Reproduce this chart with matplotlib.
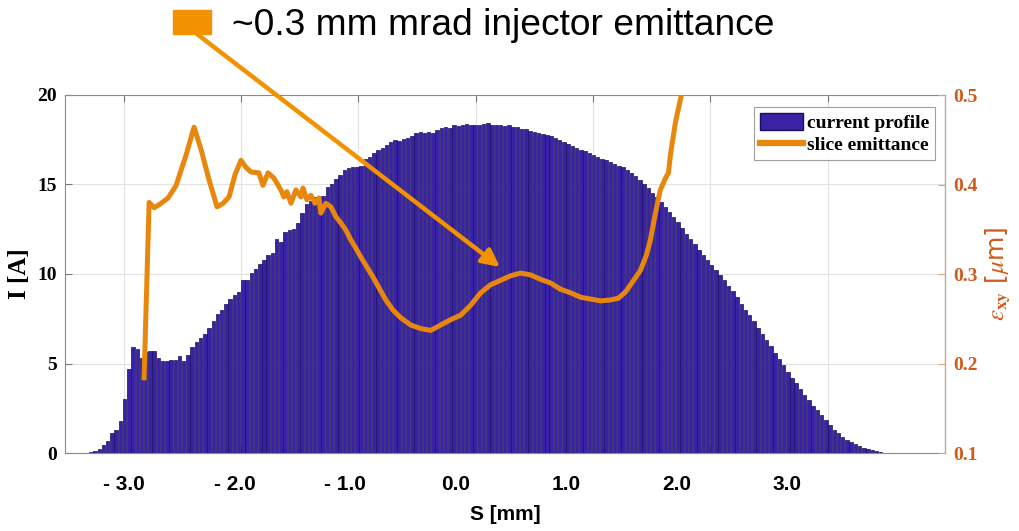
import matplotlib
matplotlib.use("Agg")
import matplotlib.pyplot as plt
import numpy as np
from matplotlib.patches import Rectangle, Patch
from matplotlib.lines import Line2D

plt.rcParams['mathtext.fontset'] = 'stix'

# current profile: bin centres start / width [mm], heights [A]
bin_start = -3.28
bin_width = 0.036
current = [
    0.05, 0.12, 0.25, 0.42, 0.68, 1.1, 1.3, 1.8, 3.0, 4.7,
    5.9, 5.8, 5.3, 5.65, 5.7, 5.7, 5.3, 5.15, 5.15, 5.2,
    5.2, 5.4, 5.15, 5.5, 5.9, 6.2, 6.45, 6.65, 7.0, 7.4,
    7.75, 8.0, 8.3, 8.6, 8.8, 9.0, 9.65, 9.65, 10.05, 10.3,
    10.55, 10.8, 11.05, 11.15, 11.95, 11.8, 12.35, 12.45, 12.5, 12.85,
    13.4, 13.9, 14.1, 14.3, 14.15, 14.35, 14.85, 15.05, 15.3, 15.55,
    15.8, 15.9, 16.0, 15.95, 16.05, 16.45, 16.55, 16.75, 16.9, 17.05,
    17.2, 17.4, 17.5, 17.45, 17.55, 17.6, 17.7, 17.9, 17.95, 17.9,
    17.95, 17.9, 18.05, 18.15, 18.2, 18.15, 18.3, 18.25, 18.35, 18.4,
    18.3, 18.35, 18.3, 18.4, 18.45, 18.35, 18.3, 18.3, 18.25, 18.3,
    18.2, 18.2, 18.1, 18.1, 18.0, 17.95, 17.9, 17.8, 17.75, 17.7,
    17.6, 17.5, 17.35, 17.25, 17.15, 17.05, 16.95, 16.85, 16.75, 16.65,
    16.55, 16.45, 16.35, 16.25, 16.15, 16.05, 15.95, 15.8, 15.65, 15.45,
    15.25, 15.0, 14.8, 14.55, 14.3, 14.05, 13.75, 13.45, 13.2, 12.9,
    12.55, 12.25, 11.95, 11.65, 11.35, 11.05, 10.8, 10.5, 10.2, 9.95,
    9.65, 9.35, 9.05, 8.7, 8.35, 8.0, 7.7, 7.35, 7.0, 6.65,
    6.3, 5.95, 5.6, 5.25, 4.9, 4.55, 4.2, 3.9, 3.55, 3.25,
    2.95, 2.65, 2.4, 2.1, 1.85, 1.55, 1.3, 1.1, 0.9, 0.75,
    0.6, 0.48, 0.38, 0.3, 0.22, 0.15, 0.1, 0.06,
]

# slice emittance [um] vs s [mm]
emit_s = [
    -2.826, -2.783, -2.740, -2.681, -2.621, -2.553, -2.468, -2.400, -2.340, -2.272,
    -2.204, -2.153, -2.102, -2.051, -2.000, -1.957, -1.915, -1.847, -1.813, -1.770,
    -1.719, -1.660, -1.634, -1.609, -1.574, -1.532, -1.489, -1.472, -1.438, -1.404,
    -1.370, -1.336, -1.319, -1.277, -1.234, -1.191, -1.149, -1.106, -1.064, -1.021,
    -0.979, -0.928, -0.877, -0.826, -0.766, -0.706, -0.638, -0.553, -0.468, -0.383,
    -0.298, -0.213, -0.128, -0.043, 0.043, 0.128, 0.213, 0.298, 0.383, 0.468,
    0.553, 0.638, 0.723, 0.809, 0.894, 0.979, 1.064, 1.149, 1.217, 1.277,
    1.336, 1.404, 1.455, 1.489, 1.532, 1.574, 1.617, 1.643, 1.660, 1.702,
    1.753, 1.787,
]
emit = [
    0.184, 0.380, 0.374, 0.379, 0.385, 0.399, 0.433, 0.464, 0.439, 0.405,
    0.375, 0.379, 0.386, 0.411, 0.427, 0.419, 0.414, 0.413, 0.399, 0.413,
    0.407, 0.394, 0.386, 0.392, 0.379, 0.394, 0.386, 0.396, 0.383, 0.388,
    0.379, 0.385, 0.368, 0.379, 0.375, 0.364, 0.357, 0.349, 0.338, 0.329,
    0.319, 0.308, 0.297, 0.285, 0.271, 0.260, 0.251, 0.243, 0.239, 0.237,
    0.243, 0.249, 0.254, 0.265, 0.279, 0.288, 0.293, 0.298, 0.301, 0.299,
    0.294, 0.290, 0.283, 0.279, 0.274, 0.272, 0.270, 0.271, 0.273, 0.280,
    0.291, 0.304, 0.321, 0.338, 0.368, 0.394, 0.407, 0.413, 0.433, 0.469,
    0.500, 0.539,
]

x_ticks = [-3, -2, -1, 0, 1, 2, 3]
x_ticklabels = ['- 3.0', '- 2.0', '- 1.0', '0.0', '1.0', '2.0', '3.0']
i_ticks = [0, 5, 10, 15, 20]
e_ticks = [0.1, 0.2, 0.3, 0.4, 0.5]

bar_col = '#3A22A6'
line_col = '#E8870E'
arrow_col = '#F39200'
right_col = '#CF5A1C'
sans = ['Liberation Sans', 'DejaVu Sans']
serif = ['Liberation Serif', 'DejaVu Serif']

fig = plt.figure(figsize=(10.2, 5.31), dpi=100)
ax = fig.add_axes([65/1020, 1-453/531, 880/1020, 358/531])

s = bin_start + bin_width*np.arange(len(current))
ax.bar(s, current, width=bin_width*0.82, color=bar_col, edgecolor='#1A0E5E', linewidth=0.5, zorder=2)

ax.set_xlim(-3.5, 4.0)
ax.set_ylim(0, 20)
ax.set_xticks(x_ticks)
ax.set_yticks(i_ticks)
ax.grid(True, color='#e2e2e2', linewidth=0.8, zorder=0)
ax.set_axisbelow(True)
ax.tick_params(axis='x', direction='in', top=True, labelbottom=False, length=5, color='#777777')
ax.tick_params(axis='y', direction='in', right=False, length=5, color='#777777', pad=6)
for lab in ax.get_yticklabels():
    lab.set_fontfamily(serif)
    lab.set_fontweight('bold')
    lab.set_fontsize(14)
for sp in ['left', 'top', 'bottom']:
    ax.spines[sp].set_color('#8a8a8a')
ax.set_ylabel('I [A]', fontfamily=serif, fontweight='bold', fontsize=18, labelpad=4)

# pasted tick labels, offset from the grid
def fwd(x):
    return (x + 0.170)/0.9421

def inv(x):
    return 0.9421*x - 0.170

sec = ax.secondary_xaxis('bottom', functions=(fwd, inv))
sec.set_xticks(x_ticks)
sec.set_xticklabels(x_ticklabels, fontfamily=sans, fontweight='bold', fontsize=15)
sec.tick_params(length=0, pad=16)
sec.spines['bottom'].set_visible(False)
sec.set_xlabel('S [mm]', fontfamily=sans, fontweight='bold', fontsize=15, labelpad=8)

ax2 = ax.twinx()
ax2.plot(emit_s, emit, color=line_col, linewidth=3.6, solid_joinstyle='round', zorder=3)
ax2.set_ylim(0.1, 0.5)
ax2.set_yticks(e_ticks)
ax2.tick_params(axis='y', direction='in', length=5, color='#E0A07A', labelcolor=right_col, pad=6)
for lab in ax2.get_yticklabels():
    lab.set_fontfamily(serif)
    lab.set_fontweight('bold')
    lab.set_fontsize(14)
ax2.spines['right'].set_color('#E0A07A')
for sp in ['left', 'top', 'bottom']:
    ax2.spines[sp].set_visible(False)
ax2.set_ylabel(r'$\epsilon_{\mathbf{xy}}$ [$\mu$m]', color=right_col, fontsize=18, labelpad=4)

handles = [Patch(facecolor=bar_col, edgecolor='#1A0E5E'),
           Line2D([0], [0], color=line_col, linewidth=4.5)]
leg = ax2.legend(handles, ['current profile', 'slice emittance'], loc='upper right',
                 bbox_to_anchor=((935-65)/880, (453-107)/358), borderaxespad=0,
                 fancybox=False, edgecolor='#888888',
                 handlelength=2.2, handleheight=1.0, handletextpad=0.2, borderpad=0.3,
                 labelspacing=0.15, prop={'family': serif, 'weight': 'bold', 'size': 14})
leg.get_frame().set_linewidth(0.8)

# annotation on top
fig.patches.append(Rectangle((173/1020, 1-34/531), 38/1020, 24/531,
                             transform=fig.transFigure, color=arrow_col))
fig.text(232/1020, 1-35/531, '~0.3 mm mrad injector emittance', fontfamily=sans,
         fontsize=26.7, va='baseline', ha='left')
ax2.annotate('', xy=(500, 531-267), xycoords='figure pixels',
             xytext=(197, 531-34), textcoords='figure pixels',
             arrowprops=dict(arrowstyle='-|>', color=arrow_col, lw=3.2,
                             mutation_scale=26, shrinkA=0, shrinkB=0))

fig.savefig('out.png', dpi=100)
